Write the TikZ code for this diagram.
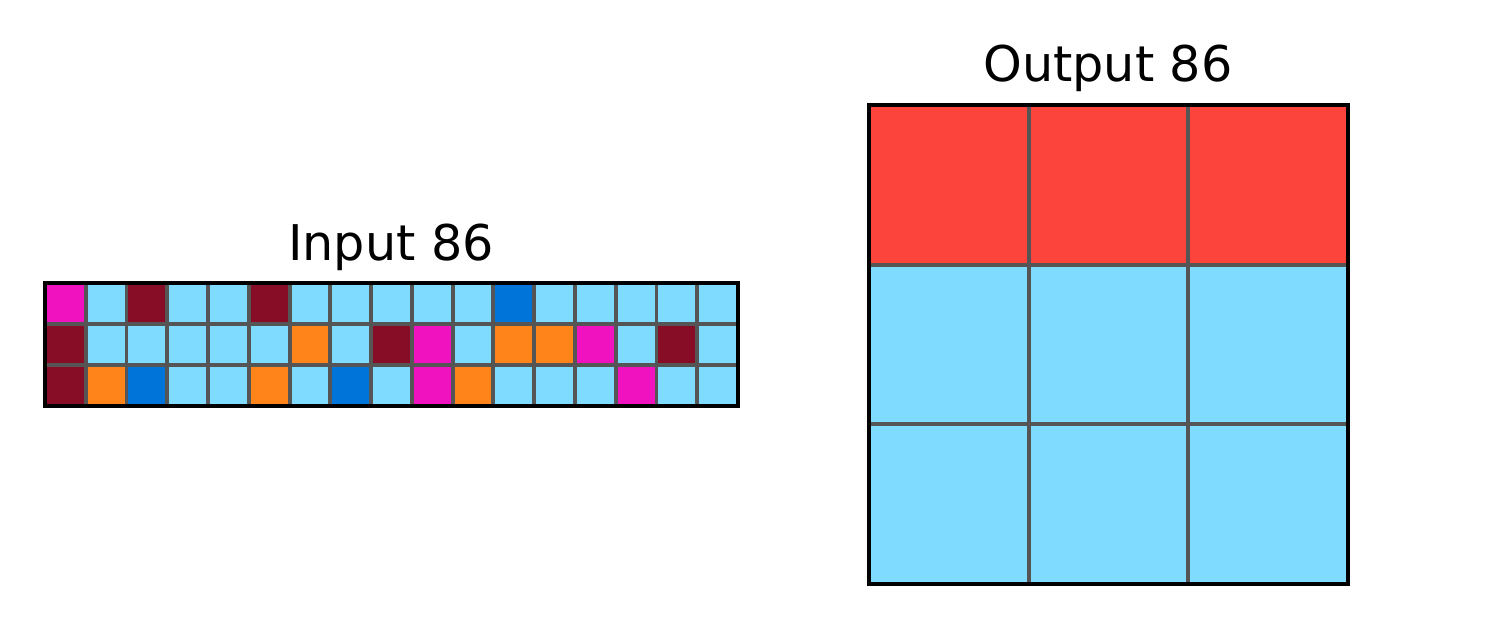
\documentclass[tikz,border=0pt]{standalone}
\usepackage{fontspec}
\setmainfont{DejaVu Sans}
\definecolor{cmag}{HTML}{F012BE}
\definecolor{cmar}{HTML}{870C25}
\definecolor{clb}{HTML}{7FDBFF}
\definecolor{cora}{HTML}{FF851B}
\definecolor{cblu}{HTML}{0074D9}
\definecolor{cred}{HTML}{FC433C}
\definecolor{gridgray}{HTML}{555555}
\tikzset{
  gridline/.style={draw=gridgray, line width=1.1pt},
  border/.style={draw=black, line width=1.1pt},
  title/.style={font=\fontsize{14}{16}\selectfont, anchor=base}
}
\begin{document}
\begin{tikzpicture}[x=0.01cm, y=-0.01cm]
          \useasboundingbox (0, 0) rectangle (1500, 629);

          % Input cells
          \foreach \row/\cols in {0/{cmag,clb,cmar,clb,clb,cmar,clb,clb,clb,clb,clb,cblu,clb,clb,clb,clb,clb},
              1/{cmar,clb,clb,clb,clb,clb,cora,clb,cmar,cmag,clb,cora,cora,cmag,clb,cmar,clb},
              2/{cmar,cora,cblu,clb,clb,cora,clb,cblu,clb,cmag,cora,clb,clb,clb,cmag,clb,clb}}
            \foreach \c [count=\i from 0] in \cols
              \fill [\c] ({45 + \i*40.765}, {283 + \row*41}) rectangle
                ++(40.765, 41);
          \foreach \i in {1, ..., 16}
            \draw [gridline] ({45 + \i*40.765}, 283) -- ++(0, 123);
          \foreach \j in {1, 2}
            \draw [gridline] (45, {283 + \j*41}) -- (738, {283 + \j*41});
          \draw [border] (45, 283) rectangle (738, 406);
          \node [title] (intitle) at (391, 260) {Input 86};

          % Output cells
          \fill [cred] (869, 105) rectangle (1348, 264.67);
          \fill [clb] (869, 264.67) rectangle (1348, 584);
          \foreach \i in {1, 2} {
            \draw [gridline] ({869 + \i*159.67}, 105) -- ++(0, 479);
            \draw [gridline] (869, {105 + \i*159.67}) -- (1348, {105 + \i*159.67});
          }
          \draw [border] (869, 105) rectangle (1348, 584);
          \node [title] (outtitle) at (1108, 81) {Output 86};
        \end{tikzpicture}
\end{document}
